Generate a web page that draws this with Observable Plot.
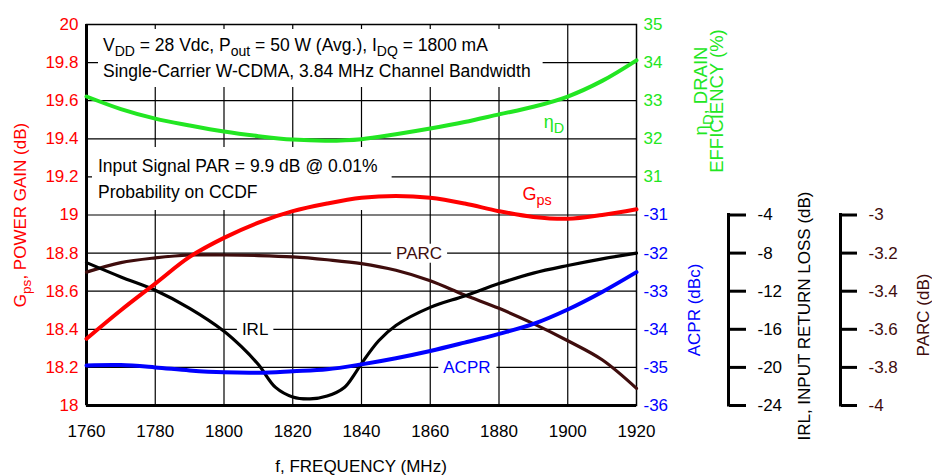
<!DOCTYPE html>
<html><head><meta charset="utf-8">
<style>
html,body{margin:0;padding:0;background:#fff;}
svg text{font-family:"Liberation Sans", Arial, sans-serif;}
</style>
<script src="https://cdn.jsdelivr.net/npm/d3@7"></script>
<script src="https://cdn.jsdelivr.net/npm/@observablehq/plot@0.6"></script>
</head><body><div id="chart"></div>
<script>
// ---------- data ----------
const freq = [1760,1770,1780,1790,1800,1810,1820,1830,1840,1850,1860,1870,1880,1890,1900,1910,1920];
const gps  = [18.35,18.50,18.64,18.78,18.88,18.96,19.02,19.06,19.09,19.10,19.09,19.06,19.02,18.99,18.98,19.00,19.03];
const eff  = [33.11,32.78,32.53,32.35,32.19,32.07,31.98,31.95,31.99,32.12,32.27,32.44,32.64,32.84,33.11,33.52,34.06];
const acpr = [-34.95,-34.94,-35.00,-35.08,-35.13,-35.14,-35.10,-35.05,-34.92,-34.76,-34.57,-34.35,-34.12,-33.86,-33.48,-33.02,-32.50];
const parc = [-3.30,-3.25,-3.225,-3.21,-3.21,-3.213,-3.22,-3.235,-3.255,-3.29,-3.345,-3.42,-3.49,-3.57,-3.66,-3.76,-3.91];
const irlFreq = [1760,1770,1780,1790,1800,1805,1810,1815,1820,1825,1830,1835,1838,1840,1845,1850,1860,1870,1880,1890,1900,1910,1920];
const irl     = [-9.0,-10.5,-11.9,-13.8,-16.2,-17.8,-19.7,-22.1,-23.1,-23.3,-23.0,-22.1,-20.7,-19.6,-17.2,-15.6,-13.7,-12.5,-11.2,-10.1,-9.3,-8.6,-8.0];

const xTicks    = [1760,1780,1800,1820,1840,1860,1880,1900,1920];
const gpsTicks  = [18,18.2,18.4,18.6,18.8,19,19.2,19.4,19.6,19.8,20];
const gpsLabels = ["18","18.2","18.4","18.6","18.8","19","19.2","19.4","19.6","19.8","20"];
const effTicks  = [31,32,33,34,35];
const acprTicks = [-36,-35,-34,-33,-32,-31];
const irlTicks  = [-24,-20,-16,-12,-8,-4];
const parcTicks = [-4,-3.8,-3.6,-3.4,-3.2,-3];
const parcLabels= ["-4","-3.8","-3.6","-3.4","-3.2","-3"];

// ---------- colours ----------
const RED = "#ff0000", GREEN = "#22e622", BLUE = "#0000ff", BLACK = "#000000", BROWN = "#3f0d0d";

// map secondary quantities onto the gain (left) scale
const effToG  = e => 19 + (e - 30) * 0.2;
const acprToG = a => 19 + (a + 31) * 0.2;
const irlToG  = r => 19 + (r + 4) / 20;
const parcToG = p => 19 + (p + 3);

const FS = 17;
const chart = Plot.plot({
  width: 932, height: 475,
  marginLeft: 86, marginRight: 296, marginTop: 24, marginBottom: 70,
  style: {fontFamily: "Liberation Sans, Arial, sans-serif", fontSize: FS + "px", background: "white"},
  x: {domain: [xTicks[0], xTicks[xTicks.length - 1]], axis: null},
  y: {domain: [gpsTicks[0], gpsTicks[gpsTicks.length - 1]], axis: null},
  marks: [
    Plot.gridX(xTicks.slice(1, -1), {stroke: BLACK, strokeOpacity: 1, strokeWidth: 1.2}),
    Plot.gridY(gpsTicks.slice(1, -1), {stroke: BLACK, strokeOpacity: 1, strokeWidth: 1.2}),
    Plot.frame({stroke: BLACK, strokeWidth: 1.5}),
    Plot.ruleX([xTicks[0]], {stroke: BLACK, strokeWidth: 3}),
    Plot.ruleY([gpsTicks[0]], {stroke: BLACK, strokeWidth: 3}),
    // curves
    Plot.line(parc, {x: freq, y: parc.map(parcToG), stroke: BROWN, strokeWidth: 3.2, curve: "catmull-rom"}),
    Plot.line(irl, {x: irlFreq, y: irl.map(irlToG), stroke: BLACK, strokeWidth: 3.2, curve: "catmull-rom"}),
    Plot.line(acpr, {x: freq, y: acpr.map(acprToG), stroke: BLUE, strokeWidth: 4, curve: "catmull-rom"}),
    Plot.line(eff, {x: freq, y: eff.map(effToG), stroke: GREEN, strokeWidth: 4, curve: "catmull-rom"}),
    Plot.line(gps, {x: freq, y: gps, stroke: RED, strokeWidth: 4, curve: "catmull-rom"}),
    // axes
    Plot.axisX(xTicks, {anchor: "bottom", tickSize: 0, tickPadding: 19, fontSize: FS, text: d => String(d), fill: BLACK}),
    Plot.axisY(gpsTicks, {anchor: "left", tickSize: 0, tickPadding: 8, fontSize: FS, fill: RED, text: (d, i) => gpsLabels[i]}),
    Plot.axisY(effTicks, {y: effToG, anchor: "right", tickSize: 0, tickPadding: 7, fontSize: FS, fill: GREEN, text: d => String(d)}),
    Plot.axisY(acprTicks, {y: acprToG, anchor: "right", tickSize: 0, tickPadding: 7, fontSize: FS, fill: BLUE, text: d => String(d)}),
    Plot.axisY(irlTicks, {y: irlToG, anchor: "right", dx: 92, tickSize: 17, tickPadding: 12, strokeWidth: 3, stroke: BLACK, fontSize: FS, fill: BLACK, text: d => String(d)}),
    Plot.ruleX([xTicks[xTicks.length - 1]], {y1: irlToG(irlTicks[0]), y2: irlToG(irlTicks[irlTicks.length - 1]), dx: 92, stroke: BLACK, strokeWidth: 3, strokeLinecap: "square"}),
    Plot.axisY(parcTicks, {y: parcToG, anchor: "right", dx: 204, tickSize: 16, tickPadding: 12, strokeWidth: 3, stroke: BLACK, fontSize: FS, fill: BROWN, text: (d, i) => parcLabels[i]}),
    Plot.ruleX([xTicks[xTicks.length - 1]], {y1: parcToG(parcTicks[0]), y2: parcToG(parcTicks[parcTicks.length - 1]), dx: 204, stroke: BLACK, strokeWidth: 3, strokeLinecap: "square"})
  ]
});
document.getElementById("chart").appendChild(chart);

// ---------- annotations (text with subscripts) ----------
const NS = "http://www.w3.org/2000/svg";
const sx = chart.scale("x"), sy = chart.scale("y");
const firstLine = chart.querySelector('[aria-label="line"]');

function rich(x, y, parts, {size = FS, fill = BLACK, anchor = "start", rotate = 0} = {}) {
  const t = document.createElementNS(NS, "text");
  t.setAttribute("transform", `translate(${x},${y}) rotate(${rotate})`);
  t.setAttribute("text-anchor", anchor);
  t.setAttribute("fill", fill);
  t.setAttribute("font-size", size);
  t.setAttribute("font-family", "Liberation Sans, Arial, sans-serif");
  let shift = 0;
  for (const [s, sub] of parts) {
    const ts = document.createElementNS(NS, "tspan");
    const target = sub ? 0.3 * size : 0;
    ts.setAttribute("dy", target - shift);
    shift = target;
    if (sub) ts.setAttribute("font-size", size * 0.8);
    ts.textContent = s;
    t.appendChild(ts);
  }
  chart.appendChild(t);
  return t;
}
function whiteBehind(nodes, [pl, pr, pt, pb]) {
  let x0 = Infinity, y0 = Infinity, x1 = -Infinity, y1 = -Infinity;
  for (const n of nodes) {
    const b = n.getBBox();
    const m = n.transform.baseVal.consolidate();
    const tx = m ? m.matrix.e : 0, ty = m ? m.matrix.f : 0;
    x0 = Math.min(x0, b.x + tx); y0 = Math.min(y0, b.y + ty);
    x1 = Math.max(x1, b.x + b.width + tx); y1 = Math.max(y1, b.y + b.height + ty);
  }
  const r = document.createElementNS(NS, "rect");
  r.setAttribute("x", x0 - pl); r.setAttribute("y", y0 - pt);
  r.setAttribute("width", x1 - x0 + pl + pr); r.setAttribute("height", y1 - y0 + pt + pb);
  r.setAttribute("fill", "white");
  chart.insertBefore(r, firstLine);
}

const mL = 86, mT = 24;
const BOXFS = 17.5;
// condition box
const b1 = [
  rich(mL + 17, mT + 27, [["V",0],["DD",1],[" = 28 Vdc, P",0],["out",1],[" = 50 W (Avg.), I",0],["DQ",1],[" = 1800 mA",0]], {size: BOXFS}),
  rich(mL + 17, mT + 53, [["Single-Carrier W-CDMA, 3.84 MHz Channel Bandwidth",0]], {size: BOXFS})
];
whiteBehind(b1, [5, 12, 6, 6]);
const b2 = [
  rich(mL + 12, mT + 148, [["Input Signal PAR = 9.9 dB @ 0.01%",0]], {size: BOXFS}),
  rich(mL + 12, mT + 174, [["Probability on CCDF",0]], {size: BOXFS})
];
whiteBehind(b2, [6, 14, 9, 8]);

// curve labels
rich(sx.apply(1896.1), sy.apply(19.454), [["\u03b7",0],["D",1]], {fill: GREEN, anchor: "middle", size: 18});
rich(sx.apply(1891.2), sy.apply(19.076), [["G",0],["ps",1]], {fill: RED, anchor: "middle", size: 18});
const lp = rich(sx.apply(1856.9), sy.apply(18.8) + 0.36 * FS, [["PARC",0]], {fill: BROWN, anchor: "middle"});
whiteBehind([lp], [5, 5, 0, 0]);
const li = rich(sx.apply(1809.2), sy.apply(18.4) + 0.36 * FS, [["IRL",0]], {fill: BLACK, anchor: "middle"});
whiteBehind([li], [5, 5, 0, 0]);
const la = rich(sx.apply(1870.8), sy.apply(18.2) + 0.36 * FS, [["ACPR",0]], {fill: BLUE, anchor: "middle"});
whiteBehind([la], [5, 6, 0, 0]);

// axis titles
rich(25.5, 215, [["G",0],["ps",1],[", POWER GAIN (dB)",0]], {fill: RED, anchor: "middle", rotate: -90});
rich(361, 472, [["f, FREQUENCY (MHz)",0]], {fill: BLACK, anchor: "middle"});
rich(707, 91, [["\u03b7",0],["D",1],[", DRAIN",0]], {fill: GREEN, anchor: "middle", rotate: -90, size: 18.5});
rich(723, 101, [["EFFICIENCY (%)",0]], {fill: GREEN, anchor: "middle", rotate: -90, size: 18.5});
rich(700, 310, [["ACPR (dBc)",0]], {fill: BLUE, anchor: "middle", rotate: -90});
rich(810, 316, [["IRL, INPUT RETURN LOSS (dB)",0]], {fill: BLACK, anchor: "middle", rotate: -90});
rich(929, 315, [["PARC (dB)",0]], {fill: BROWN, anchor: "middle", rotate: -90});
</script>
</body></html>
